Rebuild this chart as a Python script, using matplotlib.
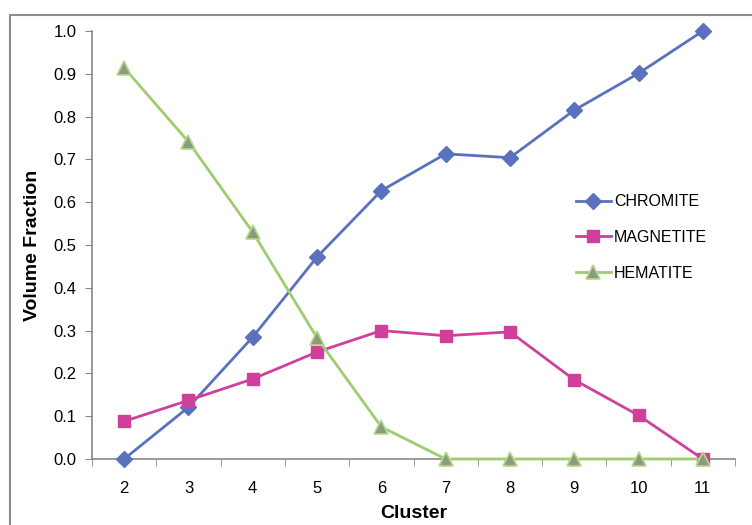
import matplotlib
matplotlib.use("Agg")
import matplotlib.pyplot as plt
from matplotlib.patches import Rectangle

clusters = [2, 3, 4, 5, 6, 7, 8, 9, 10, 11]
chromite = [0.0, 0.121, 0.285, 0.472, 0.627, 0.713, 0.704, 0.815, 0.901, 1.0]
magnetite = [0.088, 0.137, 0.187, 0.250, 0.300, 0.288, 0.297, 0.185, 0.102, 0.0]
hematite = [0.914, 0.741, 0.530, 0.283, 0.075, 0.0, 0.0, 0.0, 0.0, 0.0]
yticks = [0.0, 0.1, 0.2, 0.3, 0.4, 0.5, 0.6, 0.7, 0.8, 0.9, 1.0]

plt.rcParams['font.family'] = ['Liberation Sans', 'DejaVu Sans']

fig = plt.figure(figsize=(7.52, 5.25), dpi=100)
# outer frame
fig.patches.append(Rectangle((10/752, -0.1), 1.2, (525-15)/525 + 0.1,
                             transform=fig.transFigure, fill=False,
                             edgecolor='#8c8c8c', linewidth=1.5))

ax = fig.add_axes([92/752, (525-459)/525, (735-92)/752, 428/525])

ax.plot(clusters, chromite, color='#5a72bd', lw=2, marker='D', ms=8,
        mfc='#5a72bd', mec='#5a72bd', label='CHROMITE', zorder=3)
ax.plot(clusters, magnetite, color='#d0409a', lw=2, marker='s', ms=9,
        mfc='#d0409a', mec='#d0409a', label='MAGNETITE', zorder=3)
ax.plot(clusters, hematite, color='#9fcc6e', lw=2, marker='^', ms=10,
        mfc='#8a9c80', mec='#b5d98c', mew=1.2, label='HEMATITE', zorder=4)

ax.set_xlim(1.5, 11.5)
ax.set_ylim(0, 1.0)
ax.set_xticks(clusters)
ax.set_xticklabels([str(c) for c in clusters])
ax.set_xticks([c - 0.5 for c in clusters] + [11.5], minor=True)
ax.tick_params(axis='x', which='major', length=0, pad=16, labelsize=12)
ax.tick_params(axis='x', which='minor', length=5, direction='out', color='#888888')
ax.set_yticks(yticks)
ax.set_yticklabels([f"{v:.1f}" for v in yticks])
ax.tick_params(axis='y', length=5, direction='out', color='#888888', labelsize=12, pad=6)

for s in ['top', 'right']:
    ax.spines[s].set_visible(False)
for s in ['left', 'bottom']:
    ax.spines[s].set_color('#888888')
    ax.spines[s].set_linewidth(1.2)
for line in ax.lines:
    line.set_clip_on(False)

ax.set_xlabel('Cluster', fontsize=14, fontweight='bold', labelpad=6)
ax.set_ylabel('Volume Fraction', fontsize=14, fontweight='bold', labelpad=9)

leg = ax.legend(loc='upper left', bbox_to_anchor=(0.73, 0.652), frameon=False,
                fontsize=11.5, handlelength=2.2, labelspacing=1.3, handletextpad=0.2)

fig.savefig('out.png', dpi=100)
